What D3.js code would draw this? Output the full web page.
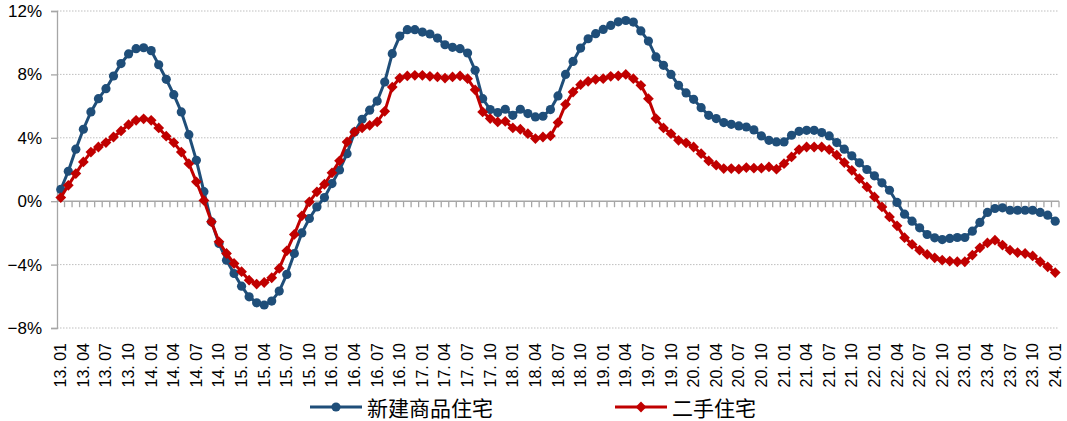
<!DOCTYPE html>
<html>
<head>
<meta charset="utf-8">
<script src="https://cdn.jsdelivr.net/npm/d3@7/dist/d3.min.js"></script>
<style>
  html, body { margin: 0; padding: 0; background: #fff; }
  svg { display: block; }
</style>
</head>
<body>
<svg id="chart" width="1067" height="421"></svg>
<script>
// Monthly year-on-year change (%), 2013.01 – 2024.01
const years = d3.range(13, 25);
const months = [];
years.forEach(yr => {
  for (let m = 1; m <= 12; m++) {
    if (yr === 24 && m > 1) break;
    months.push(`${yr}. ${String(m).padStart(2, "0")}`);
  }
});

const seriesNames = ["新建商品住宅", "二手住宅"];

const newHome = [
  0.74, 1.89, 3.28, 4.54, 5.63, 6.47, 7.10, 7.90, 8.68, 9.29, 9.62, 9.68,
  9.50, 8.61, 7.69, 6.72, 5.63, 4.20, 2.58, 0.60, -1.30, -2.67, -3.72, -4.56,
  -5.36, -6.03, -6.41, -6.55, -6.30, -5.67, -4.62, -3.30, -2.00, -1.09, -0.36, 0.23,
  1.11, 1.97, 3.00, 4.37, 5.17, 5.74, 6.32, 7.52, 9.31, 10.42, 10.82, 10.82,
  10.67, 10.55, 10.29, 9.87, 9.71, 9.62, 9.35, 8.26, 6.47, 5.78, 5.59, 5.80,
  5.42, 5.80, 5.53, 5.32, 5.36, 5.78, 6.64, 8.00, 8.82, 9.66, 10.25, 10.57,
  10.84, 11.09, 11.32, 11.40, 11.30, 10.74, 10.10, 9.10, 8.57, 8.00, 7.31, 6.83,
  6.43, 5.90, 5.42, 5.21, 4.96, 4.85, 4.75, 4.68, 4.50, 4.12, 3.84, 3.74,
  3.74, 4.16, 4.41, 4.47, 4.47, 4.33, 4.12, 3.70, 3.28, 2.86, 2.42, 2.00,
  1.60, 1.16, 0.69, -0.08, -0.82, -1.26, -1.68, -2.10, -2.31, -2.42, -2.35, -2.29,
  -2.29, -1.89, -1.34, -0.71, -0.46, -0.42, -0.57, -0.57, -0.57, -0.57, -0.71, -0.88,
  -1.26
];

const secondHand = [
  0.23, 1.00, 1.74, 2.48, 3.10, 3.42, 3.70, 4.05, 4.43, 4.83, 5.10, 5.20,
  5.10, 4.62, 4.10, 3.70, 3.10, 2.37, 1.22, 0.05, -1.30, -2.56, -3.30, -3.93,
  -4.45, -4.98, -5.23, -5.13, -4.83, -4.24, -3.13, -2.10, -0.92, -0.04, 0.59, 1.07,
  1.79, 2.55, 3.74, 4.37, 4.62, 4.79, 5.00, 5.67, 7.20, 7.77, 7.90, 7.94,
  7.94, 7.88, 7.84, 7.77, 7.84, 7.90, 7.73, 7.03, 5.63, 5.21, 5.00, 5.04,
  4.62, 4.54, 4.26, 3.95, 4.05, 4.12, 4.96, 6.11, 6.89, 7.35, 7.56, 7.69,
  7.73, 7.88, 7.91, 8.00, 7.73, 7.31, 6.47, 5.21, 4.62, 4.26, 3.84, 3.68,
  3.42, 3.00, 2.54, 2.27, 2.06, 2.06, 2.02, 2.12, 2.08, 2.08, 2.16, 2.02,
  2.37, 2.79, 3.26, 3.42, 3.42, 3.42, 3.26, 2.90, 2.44, 1.95, 1.43, 0.90,
  0.27, -0.36, -0.99, -1.55, -2.30, -2.73, -3.09, -3.36, -3.57, -3.72, -3.78, -3.82,
  -3.82, -3.40, -2.94, -2.63, -2.46, -2.77, -3.09, -3.24, -3.30, -3.45, -3.82, -4.14,
  -4.50
];

const yTicks = [-8, -4, 0, 4, 8, 12];
const xTickLabels = months.filter((_, i) => i % 3 === 0);

const colors = ["#1F4E79", "#C00000"];

const svg = d3.select("#chart");
const plotLeft = 57, plotRight = 1059, plotTop = 11, plotBottom = 328;

const x = d3.scaleBand().domain(months).range([plotLeft, plotRight]).padding(0);
const y = d3.scaleLinear().domain([-8, 12]).range([plotBottom, plotTop]);
const cx = d => x(d) + x.bandwidth() / 2;

// Horizontal dotted gridlines
svg.append("g")
  .selectAll("line")
  .data(yTicks.filter(v => v !== 0))
  .join("line")
  .attr("x1", plotLeft).attr("x2", plotRight)
  .attr("y1", d => y(d)).attr("y2", d => y(d))
  .attr("stroke", "#BFBFBF")
  .attr("stroke-width", 1)
  .attr("stroke-dasharray", "1.5,1.5");

// Y axis
const yAxis = d3.axisLeft(y)
  .tickValues(yTicks)
  .tickSize(6)
  .tickPadding(9)
  .tickFormat(d => (d < 0 ? "\u2212" + Math.abs(d) : d) + "%");
const gy = svg.append("g").attr("transform", `translate(${plotLeft},0)`).call(yAxis);
gy.select(".domain").attr("stroke", "#A6A6A6").attr("stroke-width", 1.3);
gy.selectAll(".tick line").attr("stroke", "#A6A6A6").attr("stroke-width", 1.3);
gy.selectAll(".tick text")
  .attr("font-family", "Liberation Sans, Arial, sans-serif")
  .attr("font-size", 17)
  .attr("fill", "#000");

// Zero line with monthly tick marks
const boundaries = months.map(m => x(m)).concat([plotRight]);
const zeroG = svg.append("g");
zeroG.selectAll("line.mt")
  .data(boundaries.slice(1))
  .join("line")
  .attr("class", "mt")
  .attr("x1", d => d).attr("x2", d => d)
  .attr("y1", y(0)).attr("y2", y(0) + 6)
  .attr("stroke", "#A6A6A6")
  .attr("stroke-width", 1.3);
zeroG.append("line")
  .attr("x1", plotLeft).attr("x2", plotRight)
  .attr("y1", y(0)).attr("y2", y(0))
  .attr("stroke", "#A6A6A6")
  .attr("stroke-width", 1.5);

// Rotated category labels every quarter
svg.append("g")
  .selectAll("text")
  .data(xTickLabels)
  .join("text")
  .attr("transform", d => `translate(${cx(d)},343) rotate(-90)`)
  .attr("text-anchor", "end")
  .attr("dominant-baseline", "central")
  .attr("font-family", "Liberation Sans, Arial, sans-serif")
  .attr("font-size", 16)
  .attr("fill", "#000")
  .text(d => d);

// Series lines and markers
const line = d3.line().x((d, i) => cx(months[i])).y(d => y(d));
const diamond = d3.symbol().type(d3.symbolDiamond2).size(74);

function drawSeries(values, color, marker) {
  const g = svg.append("g");
  g.append("path")
    .datum(values)
    .attr("fill", "none")
    .attr("stroke", color)
    .attr("stroke-width", 3)
    .attr("stroke-linejoin", "round")
    .attr("d", line);
  if (marker === "circle") {
    g.selectAll("circle")
      .data(values)
      .join("circle")
      .attr("cx", (d, i) => cx(months[i]))
      .attr("cy", d => y(d))
      .attr("r", 4.6)
      .attr("fill", color);
  } else {
    g.selectAll("path.mk")
      .data(values)
      .join("path")
      .attr("class", "mk")
      .attr("transform", (d, i) => `translate(${cx(months[i])},${y(d)})`)
      .attr("d", diamond)
      .attr("fill", color);
  }
}
drawSeries(newHome, colors[0], "circle");
drawSeries(secondHand, colors[1], "diamond");

// Legend
const legendItems = [
  { name: seriesNames[0], color: colors[0], marker: "circle", x0: 310 },
  { name: seriesNames[1], color: colors[1], marker: "diamond", x0: 615 }
];
const ly = 407;
legendItems.forEach(it => {
  const g = svg.append("g");
  g.append("line")
    .attr("x1", it.x0).attr("x2", it.x0 + 52)
    .attr("y1", ly).attr("y2", ly)
    .attr("stroke", it.color).attr("stroke-width", 3);
  if (it.marker === "circle") {
    g.append("circle").attr("cx", it.x0 + 26).attr("cy", ly).attr("r", 4.6).attr("fill", it.color);
  } else {
    g.append("path").attr("transform", `translate(${it.x0 + 26},${ly})`).attr("d", diamond).attr("fill", it.color);
  }
  g.append("text")
    .attr("x", it.x0 + 57)
    .attr("y", ly)
    .attr("dominant-baseline", "central")
    .attr("font-family", "Noto Sans CJK SC, sans-serif")
    .attr("font-size", 21)
    .attr("fill", "#000")
    .text(it.name);
});
</script>
</body>
</html>
